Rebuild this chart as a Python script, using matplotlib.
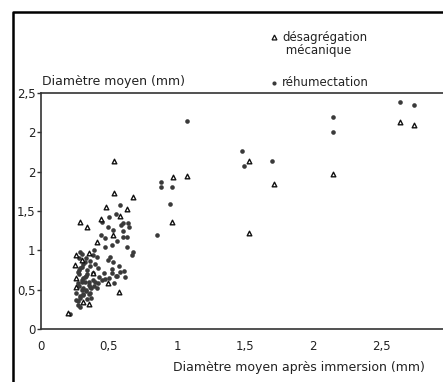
import matplotlib
matplotlib.use("Agg")
import matplotlib.pyplot as plt
from matplotlib.lines import Line2D

# désagrégation mécanique (open triangles)
meca_x = [2.64, 2.74, 2.15, 1.53, 1.71, 1.53, 1.07, 0.97, 0.96, 0.68, 0.54, 0.54,
          0.57, 0.20, 0.29, 0.34, 0.41, 0.35, 0.26, 0.25, 0.26, 0.49, 0.35, 0.31,
          0.26, 0.48, 0.63, 0.53, 0.38, 0.30, 0.44, 0.58]
meca_y = [2.63, 2.59, 1.97, 2.13, 1.84, 1.22, 1.94, 1.93, 1.36, 1.68, 2.13, 1.73,
          0.47, 0.20, 1.36, 1.30, 1.11, 0.97, 0.94, 0.81, 0.65, 0.58, 0.32, 0.34,
          0.53, 1.55, 1.52, 1.19, 0.71, 0.88, 1.40, 1.44]

# réhumectation (filled dots)
rehum_x = [2.64, 2.74, 2.15, 2.15, 1.48, 1.49, 1.70, 1.07, 0.88, 0.88, 0.96, 0.95,
           0.85, 0.58, 0.64, 0.60, 0.65, 0.53, 0.47, 0.60, 0.63, 0.52, 0.47, 0.63,
           0.68, 0.38, 0.51, 0.41, 0.53, 0.49, 0.67, 0.30, 0.34, 0.38, 0.46, 0.52,
           0.58, 0.31, 0.38, 0.54, 0.36, 0.41, 0.26, 0.31, 0.36, 0.26, 0.31, 0.29,
           0.32, 0.35, 0.28, 0.33, 0.30, 0.27, 0.33, 0.37, 0.29, 0.34, 0.39, 0.28,
           0.32, 0.43, 0.36, 0.30, 0.27, 0.35, 0.40, 0.45, 0.50, 0.55, 0.42, 0.33,
           0.29, 0.21, 0.56, 0.60, 0.49, 0.44, 0.39,
           0.27, 0.29, 0.31, 0.33, 0.28, 0.30, 0.32, 0.34, 0.27, 0.29, 0.31, 0.36,
           0.28, 0.30, 0.35, 0.37, 0.42, 0.47, 0.52, 0.40, 0.56, 0.61, 0.57, 0.62,
           0.45, 0.50, 0.55, 0.59]
rehum_y = [2.88, 2.85, 2.69, 2.50, 2.26, 2.07, 2.13, 2.64, 1.87, 1.81, 1.80, 1.59,
           1.19, 1.58, 1.35, 1.35, 1.30, 1.26, 1.16, 1.17, 1.17, 1.07, 1.04, 1.04,
           0.98, 0.94, 0.91, 0.91, 0.85, 0.88, 0.94, 0.79, 0.75, 0.71, 0.71, 0.71,
           0.72, 0.65, 0.62, 0.58, 0.53, 0.52, 0.46, 0.43, 0.46, 0.37, 0.52, 0.28,
           0.60, 0.56, 0.75, 0.68, 0.62, 0.58, 0.48, 0.40, 0.42, 0.38, 0.55, 0.70,
           0.85, 0.66, 0.80, 0.50, 0.30, 0.45, 0.60, 0.62, 0.65, 0.68, 0.78, 0.90,
           0.98, 0.19, 1.12, 1.25, 1.30, 1.20, 1.00,
           0.35, 0.40, 0.44, 0.50, 0.55, 0.60, 0.66, 0.70, 0.72, 0.77, 0.82, 0.86,
           0.90, 0.95, 0.60, 0.52, 0.58, 0.64, 0.76, 0.83, 0.68, 0.74, 0.80, 0.66,
           1.36, 1.42, 1.46, 1.32]

xticks = [0, 0.5, 1, 1.5, 2, 2.5, 3]
xticklabels = ["0", "0,5", "1", "1,5", "2", "2,5", "3"]
yticks = [0, 0.5, 1, 1.5, 2, 2.5, 3]
yticklabels = ["0", "0,5", "1", "1,5", "2", "2", "2,5"]

W, H = 443, 382
plt.rcParams["font.family"] = "DejaVu Sans"
fig = plt.figure(figsize=(W / 100, H / 100), dpi=100)
ax = fig.add_axes([41 / W, (H - 329) / H, 3.1 * 136 / W, 236 / H])

ax.scatter(rehum_x, rehum_y, s=11, marker="o", color="#3a3a3a", linewidths=0, zorder=3)
ax.scatter(meca_x, meca_y, s=11, marker="^", facecolor="white", edgecolor="#111111",
           linewidths=1.0, zorder=4)

ax.set_xlim(0, 3.1)
ax.set_ylim(0, 3)
ax.set_xticks(xticks)
ax.set_xticklabels(xticklabels)
ax.set_yticks(yticks)
ax.set_yticklabels(yticklabels)
ax.tick_params(axis="x", length=0, pad=8, labelsize=8.5, labelcolor="#222222")
ax.tick_params(axis="y", length=3, width=1, pad=1, labelsize=8.5, labelcolor="#222222",
               color="#333333")
for sp in ax.spines.values():
    sp.set_color("#333333")
    sp.set_linewidth(1.2)

# axis titles
fig.text(42 / W, 1 - 82 / H, "Diamètre moyen (mm)", fontsize=9, color="#222222",
         va="center", ha="left")
fig.text(173 / W, 1 - 367 / H, "Diamètre moyen après immersion (mm)", fontsize=9,
         color="#222222", va="center", ha="left")

# legend
fig.add_artist(Line2D([274 / W], [1 - 37 / H], marker="^", markersize=3.5,
                      markerfacecolor="white", markeredgecolor="#111111",
                      markeredgewidth=0.9, linestyle="none"))
fig.add_artist(Line2D([274 / W], [1 - 83 / H], marker="o", markersize=3,
                      markerfacecolor="#3a3a3a", markeredgewidth=0, linestyle="none"))
fig.text(282 / W, 1 - 44 / H, "désagrégation\n mécanique", fontsize=8.5,
         color="#222222", va="center", ha="left", linespacing=1.0)
fig.text(282 / W, 1 - 83 / H, "réhumectation", fontsize=8.5, color="#222222",
         va="center", ha="left")

# outer frame
fig.add_artist(Line2D([13 / W, 13 / W, 1.01], [-0.01, 1 - 12 / H, 1 - 12 / H],
                      color="black", linewidth=1.8))

fig.savefig("out.png", dpi=100)
